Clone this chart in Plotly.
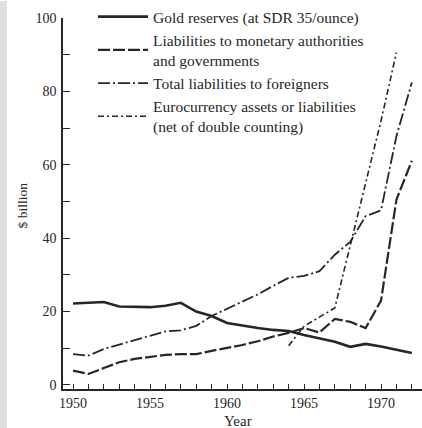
import plotly.graph_objects as go

# Years on the horizontal axis
years = list(range(1950, 1973))

# Gold reserves valued at SDR 35 per ounce ($ billion)
gold_reserves = [22.2, 22.4, 22.6, 21.4, 21.2, 21.2, 21.6, 22.4, 20.0, 18.8,
                 16.9, 16.1, 15.5, 15.0, 14.7, 13.6, 12.6, 11.8, 10.4, 11.2,
                 10.5, 9.6, 8.7]

# Liabilities to monetary authorities and governments ($ billion)
liab_official = [3.9, 3.0, 4.6, 6.2, 7.1, 7.7, 8.2, 8.4, 8.4, 9.3,
                 10.0, 10.9, 11.9, 13.2, 14.2, 15.5, 14.3, 18.0, 17.2, 15.5,
                 23.0, 50.5, 61.1]

# Total liabilities to foreigners ($ billion)
liab_total = [8.4, 8.0, 9.8, 11.1, 12.2, 13.4, 14.6, 14.9, 16.1, 18.8,
              20.7, 22.6, 24.7, 27.0, 29.2, 29.7, 31.0, 35.5, 39.0, 46.0,
              47.6, 67.8, 82.4]

# Eurocurrency assets or liabilities, net of double counting ($ billion)
euro_years = list(range(1964, 1972))
euro_net = [10.7, 16.0, 18.5, 21.0, 38.0, 55.0, 72.0, 90.6]

# Axis tick labels
x_tickvals = years
x_ticktext = [str(y) if y % 5 == 0 else "" for y in years]
y_tickvals = list(range(0, 101, 10))
y_ticktext = [str(v) if v % 20 == 0 else "" for v in y_tickvals]

INK = "#262626"
FONT = "Liberation Serif, Times New Roman, serif"

fig = go.Figure()
fig.add_trace(go.Scatter(
    x=years, y=gold_reserves, mode="lines",
    name="Gold reserves (at SDR 35/ounce)",
    line=dict(color=INK, width=2.6)))
fig.add_trace(go.Scatter(
    x=years, y=liab_official, mode="lines",
    name="Liabilities to monetary authorities<br>and governments",
    line=dict(color=INK, width=2.2, dash="12px,3px")))
fig.add_trace(go.Scatter(
    x=years, y=liab_total, mode="lines",
    name="Total liabilities to foreigners",
    line=dict(color=INK, width=1.8, dash="12px,3px,2px,3px")))
fig.add_trace(go.Scatter(
    x=euro_years, y=euro_net, mode="lines",
    name="Eurocurrency assets or liabilities<br>(net of double counting)",
    line=dict(color=INK, width=1.6, dash="6px,3px,2px,3px")))

W, H = 422, 428
ML, MR, MT, MB = 63, 0, 17, 39
pw = W - ML - MR
ph = H - MT - MB

fig.update_layout(
    width=W, height=H,
    margin=dict(l=ML, r=MR, t=MT, b=MB, pad=0),
    paper_bgcolor="white", plot_bgcolor="white",
    font=dict(family=FONT, size=14, color=INK),
    showlegend=True,
    legend=dict(
        x=(93 - ML) / pw, y=(H - MB + 1) / ph, xanchor="left", yanchor="top",
        bgcolor="rgba(0,0,0,0)", borderwidth=0, itemwidth=50,
        font=dict(family=FONT, size=15.5, color=INK),
    ),
    xaxis=dict(
        range=[1949.35, 1972.66],
        tickmode="array", tickvals=x_tickvals, ticktext=x_ticktext,
        ticks="inside", ticklen=5, tickwidth=1, tickcolor=INK,
        showline=True, linecolor=INK, linewidth=1.5,
        showgrid=False, zeroline=False,
        tickfont=dict(family=FONT, size=14, color=INK),
    ),
    yaxis=dict(
        range=[-1.1, 100],
        tickmode="array", tickvals=y_tickvals, ticktext=y_ticktext,
        ticks="inside", ticklen=7, tickwidth=1, tickcolor=INK,
        showline=True, linecolor=INK, linewidth=1.5,
        showgrid=False, zeroline=False,
        ticklabelstandoff=2,
        tickfont=dict(family=FONT, size=14, color=INK),
    ),
    shapes=[dict(
        type="rect", xref="paper", yref="paper",
        x0=-ML / pw, x1=(7 - ML) / pw, y0=-MB / ph, y1=(ph + MT) / ph,
        fillcolor="#dfe1e0", line=dict(width=0), layer="below")],
    annotations=[
        dict(text="$ billion", textangle=-90, xref="paper", yref="paper",
             x=(22 - ML) / pw, y=(H - MB - 205) / ph, showarrow=False,
             xanchor="center", yanchor="middle",
             font=dict(family=FONT, size=13.5, color=INK)),
        dict(text="Year", xref="paper", yref="paper",
             x=(238 - ML) / pw, y=(H - MB - 421) / ph, showarrow=False,
             xanchor="center", yanchor="middle",
             font=dict(family=FONT, size=15, color=INK)),
    ],
)

fig.write_html("out.html")
